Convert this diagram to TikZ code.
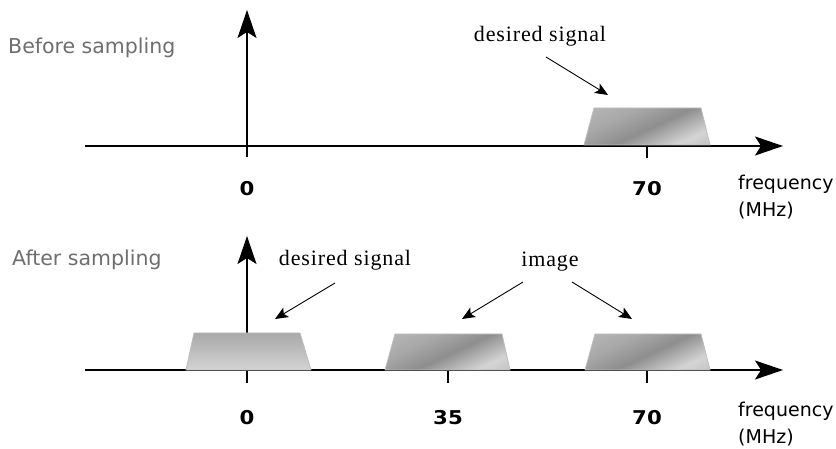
\documentclass[tikz,border=0pt]{standalone}
\usepackage{fontspec}
\setmainfont{Liberation Serif}
\newfontfamily\handfont{DejaVu Sans}
\newfontfamily\numberfont[FakeStretch=1.12]{DejaVu Sans}
\newfontfamily\labelfont[LetterSpace=4]{Liberation Serif}
\usetikzlibrary{arrows.meta}

\definecolor{captiongray}{HTML}{6E6E6E}
\definecolor{bandedge}{HTML}{BDBDBD}
\definecolor{mA}{HTML}{C6C6C6}
\definecolor{mB}{HTML}{A8A8A8}
\definecolor{mC}{HTML}{8E8E8E}
\definecolor{mD}{HTML}{D4D4D4}
\definecolor{mE}{HTML}{ABABAB}

% brushed-metal look for the spectral bands
\pgfdeclarehorizontalshading{metal}{100bp}{color(0bp)=(mA); color(35bp)=(mB); color(52bp)=(mC); color(72bp)=(mD); color(100bp)=(mE)}

\tikzset{
  axisline/.style={line width=1.5pt, -{Stealth[length=28pt,width=19pt,inset=6pt]}},
  tickline/.style={line width=1.5pt},
  pointer/.style={line width=0.9pt, -{Stealth[length=13pt,width=11pt,inset=3pt]}},
  metalband/.style={draw=bandedge, line width=0.8pt, shading=metal, shading angle=-65},
  plainband/.style={draw=bandedge, line width=0.8pt, top color=black!34, bottom color=black!17},
  caption/.style={font=\handfont\fontsize{20.5}{23}\selectfont, text=captiongray, anchor=west, inner sep=0pt},
  unitlabel/.style={font=\handfont\fontsize{19}{21}\selectfont, anchor=west, inner sep=0pt},
  freqnum/.style={font=\numberfont\bfseries\fontsize{19}{21}\selectfont, inner sep=0pt},
  note/.style={font=\labelfont\fontsize{22}{24}\selectfont, inner sep=0pt},
}

\begin{document}
\begin{tikzpicture}[x=1pt, y=-1pt]
\useasboundingbox (0,0) rectangle (836,449);

% ---------- spectrum before sampling ----------
\coordinate (t-start) at (85,146);
\coordinate (t-end) at (783,146);
\coordinate (t-vbot) at (247,157);
\coordinate (t-vtop) at (247,10);
\coordinate (t-tick70a) at (647,146);
\coordinate (t-tick70b) at (647,158);

\draw[axisline] (t-start) -- (t-end);
\draw[axisline] (t-vbot) -- (t-vtop);
\draw[tickline] (t-tick70a) -- (t-tick70b);

\path[metalband] (584,145) -- (594,108) -- (701,108) -- (710,145) -- cycle;

\node[caption] (before) at (8,48) {Before sampling};
\node[note] (t-desired) at (540,36) {desired signal};
\coordinate (t-desired-tail) at (546,57);
\coordinate (t-desired-tip) at (608,95);
\draw[pointer] (t-desired-tail) -- (t-desired-tip);

\node[freqnum] (t-zero) at (247,189) {0};
\node[freqnum] (t-seventy) at (647,189) {70};
\node[unitlabel] (t-freq) at (738,184) {frequency};
\node[unitlabel] (t-mhz) at (738,211) {(MHz)};

% ---------- spectrum after sampling ----------
\coordinate (b-start) at (85,370);
\coordinate (b-end) at (783,370);
\coordinate (b-vbot) at (247,383);
\coordinate (b-vtop) at (247,236);
\coordinate (b-tick35a) at (448,370);
\coordinate (b-tick35b) at (448,383);
\coordinate (b-tick70a) at (647,370);
\coordinate (b-tick70b) at (647,383);

\draw[axisline] (b-start) -- (b-end);
\draw[axisline] (b-vbot) -- (b-vtop);
\draw[tickline] (b-tick35a) -- (b-tick35b);
\draw[tickline] (b-tick70a) -- (b-tick70b);

\path[plainband] (186,370) -- (194,333) -- (300,333) -- (311,370) -- cycle;
\path[metalband] (385,370) -- (395,334) -- (502,334) -- (510,370) -- cycle;
\path[metalband] (585,370) -- (595,334) -- (701,334) -- (710,370) -- cycle;

\node[caption] (after) at (12,260) {After sampling};
\node[note] (b-desired) at (345,260) {desired signal};
\node[note] (b-image) at (550,262) {image};

\coordinate (b-desired-tail) at (335,283);
\coordinate (b-desired-tip) at (275,319);
\coordinate (b-image-tail-l) at (523,282);
\coordinate (b-image-tip-l) at (462,319);
\coordinate (b-image-tail-r) at (572,282);
\coordinate (b-image-tip-r) at (632,319);
\draw[pointer] (b-desired-tail) -- (b-desired-tip);
\draw[pointer] (b-image-tail-l) -- (b-image-tip-l);
\draw[pointer] (b-image-tail-r) -- (b-image-tip-r);

\node[freqnum] (b-zero) at (247,418) {0};
\node[freqnum] (b-thirtyfive) at (448,418) {35};
\node[freqnum] (b-seventy) at (647,418) {70};
\node[unitlabel] (b-freq) at (738,411) {frequency};
\node[unitlabel] (b-mhz) at (738,438) {(MHz)};
\end{tikzpicture}
\end{document}
